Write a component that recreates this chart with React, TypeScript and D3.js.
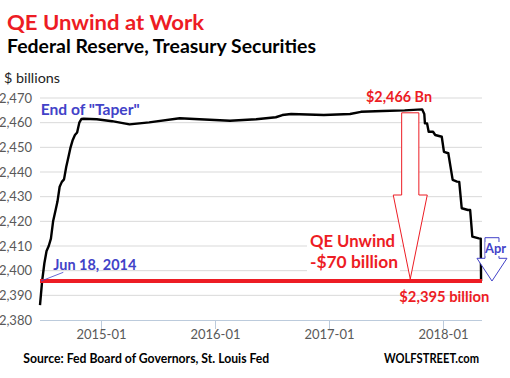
import React from "react";
import * as d3 from "d3";

const W = 510;
const H = 378;

// Weekly holdings of Treasury securities, $ billions
const dates = [
  "2014-06-18", "2014-06-25", "2014-07-02", "2014-07-09", "2014-07-16", "2014-07-23",
  "2014-07-30", "2014-08-06", "2014-08-13", "2014-08-20", "2014-08-27", "2014-09-03",
  "2014-09-10", "2014-09-17", "2014-09-24", "2014-10-01", "2014-10-08", "2014-10-15",
  "2014-10-22", "2014-10-29", "2014-11-05", "2014-12-17", "2015-02-04", "2015-04-01",
  "2015-06-03", "2015-09-09", "2015-11-11", "2016-02-17", "2016-05-11", "2016-07-13",
  "2016-08-03", "2016-08-31", "2016-12-14", "2017-03-08", "2017-04-12", "2017-06-21",
  "2017-08-30", "2017-10-25", "2017-11-01", "2017-11-03", "2017-11-10", "2017-11-15",
  "2017-11-29", "2017-12-06", "2017-12-27", "2018-01-03", "2018-01-17", "2018-01-24",
  "2018-01-31", "2018-02-14", "2018-02-21", "2018-03-01", "2018-03-21", "2018-03-28",
  "2018-04-04", "2018-04-25", "2018-05-01", "2018-05-02",
];
const values = [
  2386, 2396, 2403, 2408, 2410, 2413,
  2420, 2424, 2428, 2434, 2436, 2437,
  2442, 2446, 2450, 2453, 2455, 2456,
  2460, 2461.5, 2461.6, 2461.4, 2460.6, 2459.3,
  2460.1, 2461.8, 2461.4, 2460.8, 2461.4, 2462.2,
  2463.1, 2463.5, 2463.1, 2463.5, 2464.4, 2464.7,
  2465.0, 2465.4, 2463.5, 2459.7, 2459.7, 2456.3,
  2456.3, 2455.0, 2454.3, 2448.2, 2447.6, 2442.2,
  2436.8, 2436.1, 2436.0, 2425.3, 2424.6, 2424.6,
  2413.8, 2413.1, 2413.0, 2395.8,
];

const yTicks = [2380, 2390, 2400, 2410, 2420, 2430, 2440, 2450, 2460, 2470];
const xTicks = ["2015-01-01", "2016-01-01", "2017-01-01", "2018-01-01"];
const domainStart = "2014-06-18";
const domainEnd = "2018-05-05";

const peakValue = 2466;
const lowValue = 2395.8;
const arrowDate = "2017-09-17";
const aprDate = "2018-06-06";

const title = "QE Unwind at Work";
const subtitle = "Federal Reserve, Treasury Securities";
const yLabel = "$ billions";
const source = "Source: Fed Board of Governors, St. Louis Fed";
const brand = "WOLFSTREET.com";

const RED = "#ED1C24";
const BLUE = "#4242C8";
const FONT = "Lato, 'Open Sans', sans-serif";

export default function App() {
  const parse = d3.timeParse("%Y-%m-%d");
  const fmt = d3.timeFormat("%Y-%m");
  const x = d3
    .scaleTime()
    .domain([parse(domainStart)!, parse(domainEnd)!])
    .range([40, 482]);
  const y = d3.scaleLinear().domain([2380, 2470]).range([320, 98]);

  const data = dates.map((d, i) => ({ date: parse(d)!, value: values[i] }));
  const line = d3
    .line<{ date: Date; value: number }>()
    .x((d) => x(d.date))
    .y((d) => y(d.value));

  const [x0, x1] = x.range();

  // big red arrow
  const ax = x(parse(arrowDate)!);
  const aTop = y(2464);
  const aTip = y(lowValue) - 2;
  const aHeadY = 195;
  const redArrow = [
    [ax - 8.6, aTop],
    [ax + 8.6, aTop],
    [ax + 8.6, aHeadY],
    [ax + 17, aHeadY],
    [ax, aTip],
    [ax - 17, aHeadY],
    [ax - 8.6, aHeadY],
  ]
    .map((p) => p.join(","))
    .join(" ");

  // Apr arrow
  const bx = x(parse(aprDate)!);
  const bTop = 237.7;
  const bHead = 258.3;
  const bTip = y(lowValue);
  const blueArrow = [
    [bx - 7, bTop],
    [bx + 7, bTop],
    [bx + 7, bHead],
    [bx + 15, bHead],
    [bx, bTip],
    [bx - 15, bHead],
    [bx - 7, bHead],
  ]
    .map((p) => p.join(","))
    .join(" ");

  return (
    <div style={{ position: "fixed", left: 0, top: 0 }}>
      <svg width={W} height={H} style={{ display: "block", background: "#fff" }}>
        <rect width={W} height={H} fill="#fff" />
        {/* titles */}
        <text x={7} y={30} fill={RED} fontFamily={FONT} fontWeight={700} fontSize={21}
          textLength={197} lengthAdjust="spacingAndGlyphs">{title}</text>
        <text x={7} y={53.3} fill="#000" fontFamily={FONT} fontWeight={700} fontSize={18.5}
          textLength={309} lengthAdjust="spacingAndGlyphs">{subtitle}</text>
        <text x={4} y={83.3} fill="#222" fontFamily={FONT} fontSize={13}
          textLength={56} lengthAdjust="spacingAndGlyphs">{yLabel}</text>

        {/* gridlines */}
        {yTicks.slice(1).map((t) => (
          <line key={t} x1={x0} x2={x1} y1={y(t)} y2={y(t)} stroke="#d9d9d9" strokeWidth={1} />
        ))}
        {/* y tick labels */}
        {yTicks.map((t) => (
          <text key={t} x={32} y={y(t)} dy="0.35em" textAnchor="end" fill="#595959"
            fontFamily={FONT} fontSize={13}>{d3.format(",")(t)}</text>
        ))}
        {/* x axis */}
        <line x1={x0} x2={x1} y1={320.5} y2={320.5} stroke="#bccbdc" strokeWidth={1} />
        {xTicks.map((t) => {
          const xx = Math.round(x(parse(t)!)) + 0.5;
          return (
            <g key={t}>
              <line x1={xx} x2={xx} y1={320.5} y2={329} stroke="#bccbdc" strokeWidth={1} />
              <text x={xx} y={339.3} textAnchor="middle" fill="#595959" fontFamily={FONT}
                fontSize={13}>{fmt(parse(t)!)}</text>
            </g>
          );
        })}

        {/* data line */}
        <path d={line(data) || ""} fill="none" stroke="#000" strokeWidth={2.4}
          strokeLinejoin="round" />

        {/* red arrow */}
        <polygon points={redArrow} fill="#fff" stroke={RED} strokeWidth={1} />

        {/* QE unwind label */}
        <rect x={307} y={232} width={93} height={43} fill="#fff" />
        <text x={310} y={246.7} fill={RED} fontFamily={FONT} fontWeight={700} fontSize={17}
          textLength={85} lengthAdjust="spacingAndGlyphs">QE Unwind</text>
        <text x={310} y={268.3} fill={RED} fontFamily={FONT} fontWeight={700} fontSize={17}
          textLength={88} lengthAdjust="spacingAndGlyphs">-$70 billion</text>

        {/* red level line */}
        <line x1={x0} x2={x1} y1={y(lowValue)} y2={y(lowValue)} stroke={RED} strokeWidth={4} />

        {/* Apr arrow */}
        <polygon points={blueArrow} fill="#fff" stroke={BLUE} strokeWidth={1} />
        <rect x={bx - 6.5} y={242} width={21} height={14} fill="#fff" />
        <text x={bx - 7} y={253.3} fill={BLUE} fontFamily={FONT} fontWeight={700} fontSize={14}
          textLength={21} lengthAdjust="spacingAndGlyphs">Apr</text>

        {/* annotations */}
        <text x={366} y={101.7} fill={RED} fontFamily={FONT} fontWeight={700} fontSize={15}
          textLength={66} lengthAdjust="spacingAndGlyphs">{`$${d3.format(",")(peakValue)} Bn`}</text>
        <text x={399.3} y={301.7} fill={RED} fontFamily={FONT} fontWeight={700} fontSize={15.5}
          textLength={90} lengthAdjust="spacingAndGlyphs">$2,395 billion</text>
        <text x={40.7} y={114.5} fill={BLUE} fontFamily={FONT} fontWeight={700} fontSize={14.5}
          textLength={99} lengthAdjust="spacingAndGlyphs">End of "Taper"</text>
        <text x={53.3} y={270} fill={BLUE} fontFamily={FONT} fontWeight={700} fontSize={14.5}
          textLength={83} lengthAdjust="spacingAndGlyphs">Jun 18, 2014</text>
        <line x1={x(parse(domainStart)!) + 1} y1={y(lowValue)} x2={63.3} y2={272.3}
          stroke={BLUE} strokeWidth={0.8} />

        {/* footer */}
        <text x={23.3} y={362.7} fill="#000" fontFamily={FONT} fontWeight={700} fontSize={12.5}
          textLength={246} lengthAdjust="spacingAndGlyphs">{source}</text>
        <text x={384} y={362.7} fill="#000" fontFamily={FONT} fontWeight={700} fontSize={12.5}
          textLength={95} lengthAdjust="spacingAndGlyphs">{brand}</text>
      </svg>
    </div>
  );
}
